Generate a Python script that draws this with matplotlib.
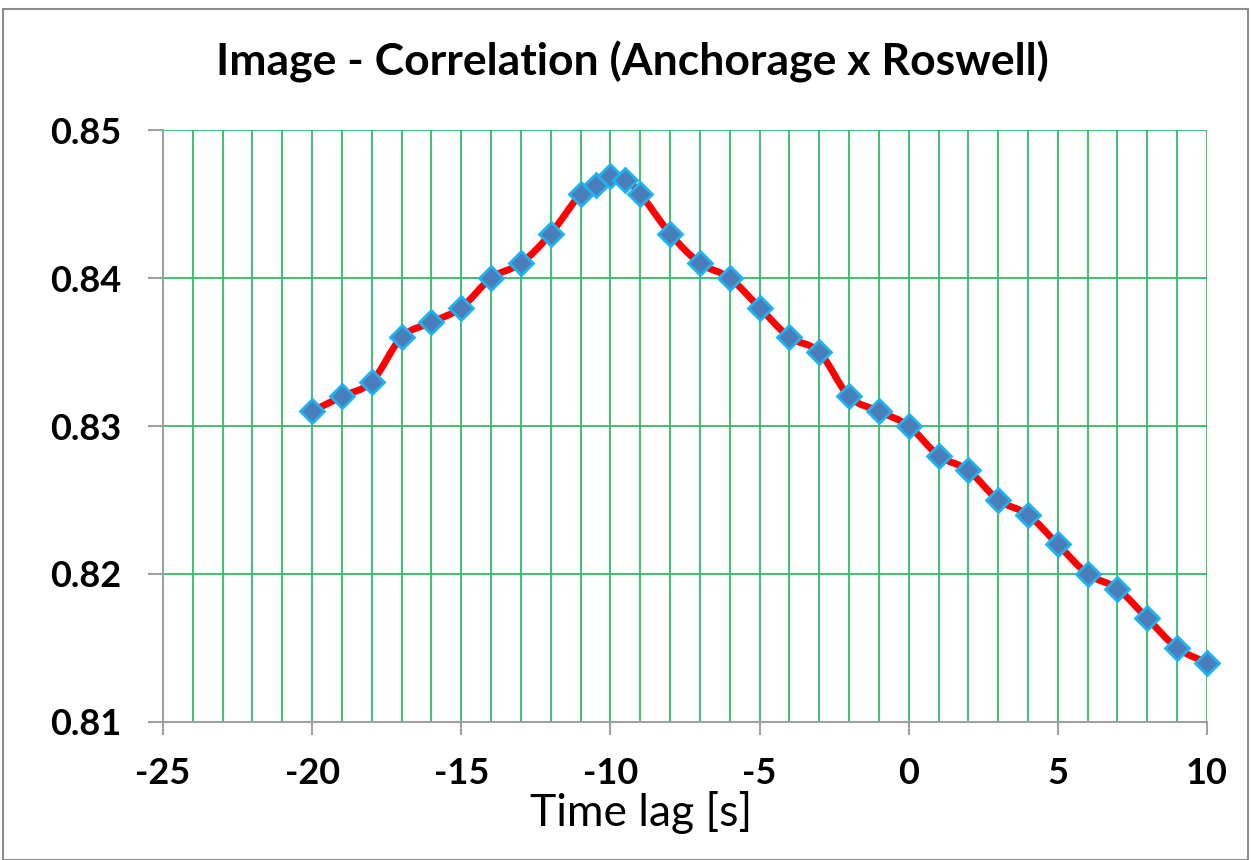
import numpy as np
import matplotlib
matplotlib.use("Agg")
import matplotlib.pyplot as plt
from matplotlib.path import Path
from matplotlib.patches import PathPatch, Rectangle

title = "Image - Correlation (Anchorage x Roswell)"
xlabel = "Time lag [s]"
lags = [-20, -19, -18, -17, -16, -15, -14, -13, -12, -11, -10.5, -10, -9.5, -9,
        -8, -7, -6, -5, -4, -3, -2, -1, 0, 1, 2, 3, 4, 5, 6, 7, 8, 9, 10]
corr = [0.831, 0.832, 0.833, 0.836, 0.837, 0.838, 0.840, 0.841, 0.843, 0.8457,
        0.8463, 0.8469, 0.8466, 0.8457, 0.843, 0.841, 0.840, 0.838, 0.836, 0.835,
        0.832, 0.831, 0.830, 0.828, 0.827, 0.825, 0.824, 0.822, 0.820, 0.819,
        0.817, 0.815, 0.814]
xticks = [-25, -20, -15, -10, -5, 0, 5, 10]
yticks = [0.81, 0.82, 0.83, 0.84, 0.85]

plt.rcParams['font.family'] = ['Lato', 'DejaVu Sans']

fig = plt.figure(figsize=(12.51, 8.6), dpi=100)
fig.patches.append(Rectangle((0.0025, 0.0), 0.995, 0.989, transform=fig.transFigure,
                             fill=False, edgecolor='#8c8c8c', linewidth=1.5))
ax = fig.add_axes([0.1303, 0.1605, 0.8345, 0.6883])
ax.set_xlim(-25, 10)
ax.set_ylim(0.81, 0.85)

grid_c = '#33bb66'
ax.set_xticks(np.arange(-25, 11, 1), minor=True)
ax.set_xticks(xticks)
ax.set_yticks(yticks)
ax.grid(True, which='both', axis='x', color=grid_c, linewidth=1.3)
ax.grid(True, which='major', axis='y', color=grid_c, linewidth=1.3)
ax.set_axisbelow(True)
for s in ['top', 'right']:
    ax.spines[s].set_visible(False)
for s in ['left', 'bottom']:
    ax.spines[s].set_color('#a0a0a0')
    ax.spines[s].set_linewidth(1.5)
    ax.spines[s].set_zorder(1.5)
ax.tick_params(axis='both', which='major', direction='out', width=1.5,
               color='#a0a0a0', labelsize=26)
ax.tick_params(axis='x', which='minor', length=0)
ax.tick_params(axis='x', which='major', length=9, pad=16)
ax.tick_params(axis='y', which='major', length=11, pad=19)
ax.set_yticklabels([f"{v:.2f}" for v in yticks])
ax.set_xticklabels([str(v) for v in xticks])
for lab in ax.get_xticklabels() + ax.get_yticklabels():
    lab.set_fontweight('bold')

# smooth (Catmull-Rom -> Bezier) line through data, like Excel smoothing
x = np.array(lags, float)
y = np.array(corr, float)
verts = [(x[0], y[0])]
codes = [Path.MOVETO]
n = len(x)
for i in range(n - 1):
    p0 = np.array([x[max(i - 1, 0)], y[max(i - 1, 0)]])
    p1 = np.array([x[i], y[i]])
    p2 = np.array([x[i + 1], y[i + 1]])
    p3 = np.array([x[min(i + 2, n - 1)], y[min(i + 2, n - 1)]])
    c1 = p1 + (p2 - p0) / 6.0
    c2 = p2 - (p3 - p1) / 6.0
    verts += [tuple(c1), tuple(c2), tuple(p2)]
    codes += [Path.CURVE4] * 3
ax.add_patch(PathPatch(Path(verts, codes), facecolor='none', edgecolor='#ff0000',
                       linewidth=5, zorder=3, capstyle='round', joinstyle='round'))
ax.plot(lags, corr, linestyle='none', marker='D', markersize=12.5,
        markerfacecolor='#4a7ebb', markeredgecolor='#1eb4f0', markeredgewidth=2,
        zorder=4, clip_on=False)

fig.text(641 / 1251, 1 - 812 / 860, xlabel, ha='center', va='center', fontsize=32)
fig.text(632 / 1251, 1 - 62 / 860, title, ha='center', va='center', fontsize=32,
         fontweight='bold')

fig.savefig("out.png", dpi=100)
